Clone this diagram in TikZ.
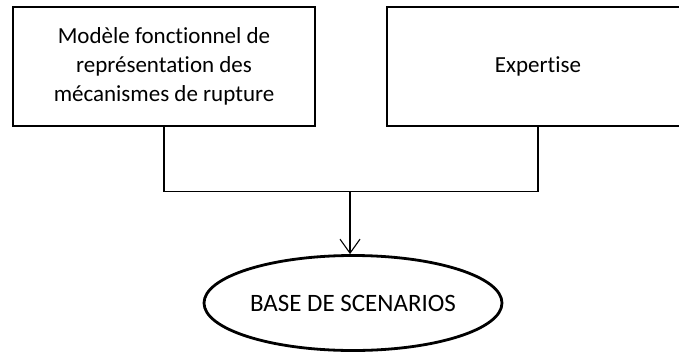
\documentclass[tikz,border=0pt]{standalone}
\usepackage{fontspec}
\setmainfont{Carlito}[Ligatures={NoCommon,NoRare}]
\usetikzlibrary{arrows.meta,shapes.geometric}

\begin{document}
\begin{tikzpicture}[x=1pt,y=-1pt,
  boxnode/.style={draw,line width=1.4pt,minimum width=302pt,minimum height=119pt,inner sep=0pt,align=center,font=\fontsize{23}{29}\selectfont},
  basenode/.style={draw,ellipse,line width=2.8pt,minimum width=298pt,minimum height=95pt,inner sep=0pt,font=\fontsize{25}{29}\selectfont},
  link/.style={line width=1.1pt}]
\useasboundingbox (0,0) rectangle (679,356);
\node[boxnode] (model) at (164,66.5) {Modèle fonctionnel de\\représentation des\\mécanismes de rupture};
\node[boxnode] (expert) at (538,66.5) {Expertise};
\node[basenode] (base) at (353,303) {BASE DE SCENARIOS};
\coordinate (join) at (350,191.5);
\draw[link] (model.south) |- (join) -| (expert.south);
\draw[link,-{Straight Barb[length=14pt,width=20pt,line width=1.1pt]}] (join) -- (join |- base.north);
\end{tikzpicture}
\end{document}
